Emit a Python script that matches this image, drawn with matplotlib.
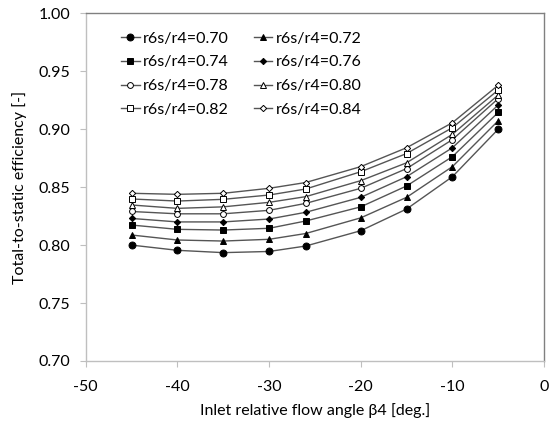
import numpy as np
import matplotlib
matplotlib.use("Agg")
import matplotlib.pyplot as plt

plt.rcParams["font.family"] = ["Lato", "DejaVu Sans"]
plt.rcParams["axes.unicode_minus"] = False

# ── Data ─────────────────────────────────────────────────────────────────────
beta4 = [-45, -40, -35, -30, -26, -20, -15, -10, -5]

ratios = ["0.70", "0.72", "0.74", "0.76", "0.78", "0.80", "0.82", "0.84"]

eff_070 = [0.800, 0.7955, 0.7935, 0.7945, 0.7992, 0.8124, 0.8311, 0.8590, 0.9000]
eff_072 = [0.8087, 0.8044, 0.8035, 0.8050, 0.8100, 0.8235, 0.8412, 0.8677, 0.9073]
eff_074 = [0.8173, 0.8136, 0.8130, 0.8145, 0.8208, 0.8330, 0.8510, 0.8763, 0.9145]
eff_076 = [0.8230, 0.8200, 0.8200, 0.8225, 0.8283, 0.8412, 0.8590, 0.8840, 0.9209]
eff_078 = [0.8290, 0.8270, 0.8270, 0.8300, 0.8360, 0.8490, 0.8660, 0.8910, 0.9264]
eff_080 = [0.8346, 0.8317, 0.8330, 0.8369, 0.8418, 0.8556, 0.8710, 0.8956, 0.9295]
eff_082 = [0.8398, 0.8380, 0.8395, 0.8432, 0.8484, 0.8633, 0.8790, 0.9013, 0.9338]
eff_084 = [0.8447, 0.8438, 0.8447, 0.8490, 0.8540, 0.8677, 0.8840, 0.9056, 0.9380]

series = [eff_070, eff_072, eff_074, eff_076, eff_078, eff_080, eff_082, eff_084]

# marker style per series: (marker, size, filled)
styles = [("o", 5.0, True), ("^", 4.5, True), ("s", 4.6, True), ("D", 3.2, True),
          ("o", 4.2, False), ("^", 4.2, False), ("s", 4.6, False), ("D", 3.2, False)]

# ── Plot ─────────────────────────────────────────────────────────────────────
fig = plt.figure(figsize=(5.58, 4.24), dpi=100)
ax = fig.add_axes([0.1536, 0.1486, 0.8214, 0.82])

handles = []
for y, r, (m, ms, filled) in zip(series, ratios, styles):
    h, = ax.plot(beta4, y, color="#555555", lw=1.0, marker=m, markersize=ms,
                 markerfacecolor="black" if filled else "white",
                 markeredgecolor="black", markeredgewidth=0.7,
                 label=f"r6s/r4={r}")
    handles.append(h)

ax.set_xlim(-50, 0)
ax.set_ylim(0.70, 1.00)
ax.set_xticks(np.arange(-50, 1, 10))
ax.set_yticks(np.arange(0.70, 1.001, 0.05))
ax.yaxis.set_major_formatter(matplotlib.ticker.FormatStrFormatter("%.2f"))
ax.tick_params(labelsize=11.5, length=4, width=0.8, color="#bfbfbf")
ax.tick_params(axis="x", pad=10)
ax.tick_params(axis="y", pad=7)

for s in ["left", "bottom"]:
    ax.spines[s].set_color("#bfbfbf")
for s in ["top", "right"]:
    ax.spines[s].set_color("#808080")
for s in ax.spines.values():
    s.set_linewidth(1.0)

ax.set_xlabel("Inlet relative flow angle β4 [deg.]", fontsize=11.5, labelpad=6)
ax.set_ylabel("Total-to-static efficiency [-]", fontsize=11.5, labelpad=8)

order = [0, 2, 4, 6, 1, 3, 5, 7]
ax.legend([handles[i] for i in order], [handles[i].get_label() for i in order],
          ncol=2, loc="upper left", bbox_to_anchor=(0.078, 0.948),
          frameon=False, fontsize=11.5, handlelength=1.13, handletextpad=0.2,
          columnspacing=1.6, labelspacing=0.6, borderpad=0, borderaxespad=0)

fig.savefig("out.png", dpi=100)
